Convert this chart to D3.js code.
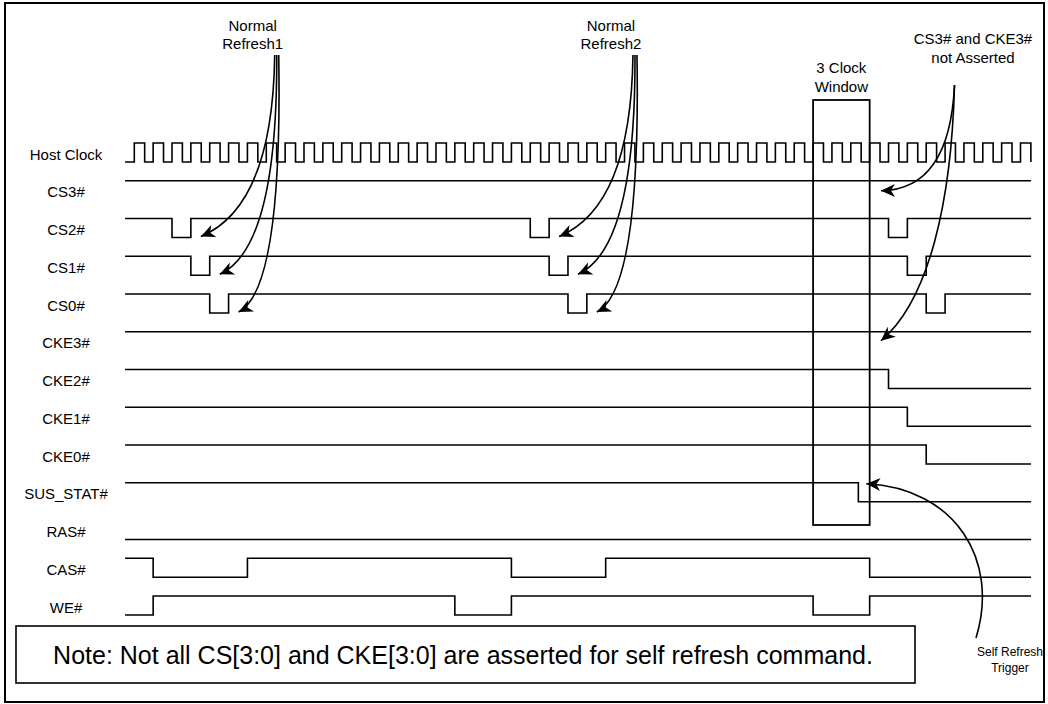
<!DOCTYPE html>
<html>
<head>
<meta charset="utf-8">
<script src="https://cdn.jsdelivr.net/npm/d3@7"></script>
<style>
  body { margin: 0; background: #fff; }
  text { font-family: "Liberation Sans", Arial, sans-serif; fill: #000; }
</style>
</head>
<body>
<svg id="chart" width="1048" height="704"></svg>
<script>
// signal rows, top to bottom
const signalNames = ["Host Clock", "CS3#", "CS2#", "CS1#", "CS0#", "CKE3#", "CKE2#",
  "CKE1#", "CKE0#", "SUS_STAT#", "RAS#", "CAS#", "WE#"];
// level at the start (1 = high, 0 = low), the clock row is drawn separately
const startLevels = [null, 1, 1, 1, 1, 1, 1, 1, 1, 1, 0, 1, 0];
// clock counts where each signal toggles
const toggleTimes = [
  null,
  [],
  [2, 3, 21, 22, 40, 41],
  [3, 4, 22, 23, 41, 42],
  [4, 5, 23, 24, 42, 43],
  [],
  [40],
  [41],
  [42],
  [38.4],
  [],
  [1, 6, 20, 25, 39],
  [1, 17, 20, 36, 39]
];
const clockEdges = d3.range(0, 48); // rising edges of the host clock
const clockHigh = 0.55;             // high part of one period
const timeSpan = [-0.49, 47.56];
const windowClocks = [36, 39];

// refresh commands: where CS2# goes low for each one
const refreshStarts = [2, 21];
const refreshLabels = [["Normal", "Refresh1"], ["Normal", "Refresh2"]];

const svg = d3.select("#chart");

const x = d3.scaleLinear().domain([0, 47]).range([134.3, 1020.5]);
const row = d3.scaleLinear().domain([0, signalNames.length - 1]).range([143, 596]);
const swing = 19;
const yLevel = (i, lvl) => row(i) + (lvl ? 0 : swing);

// outer frame
svg.append("rect")
  .attr("x", 5).attr("y", 3).attr("width", 1039).attr("height", 699)
  .attr("fill", "none").attr("stroke", "#000").attr("stroke-width", 2);

// arrow head
svg.append("defs").append("marker")
  .attr("id", "head")
  .attr("viewBox", "-15 -7 16 14")
  .attr("markerUnits", "userSpaceOnUse")
  .attr("markerWidth", 16).attr("markerHeight", 14)
  .attr("refX", 0).attr("refY", 0)
  .attr("orient", "auto")
  .append("path")
  .attr("d", "M0,0 L-14,-6.5 L-10,0 L-14,6.5 Z")
  .attr("fill", "#000");

const stepLine = d3.line().curve(d3.curveStepAfter);

// clock
const clockPts = [[timeSpan[0], 0]];
clockEdges.forEach(t => {
  clockPts.push([t, 1]);
  clockPts.push([t + clockHigh, 0]);
});
clockPts.push([clockEdges[clockEdges.length - 1] + clockHigh, 0]);

svg.append("path")
  .attr("d", stepLine(clockPts.map(([t, l]) => [x(t), yLevel(0, l)])))
  .attr("fill", "none").attr("stroke", "#000").attr("stroke-width", 1.6);

// other signals
const waves = signalNames.slice(1).map((name, k) => {
  const i = k + 1;
  let lvl = startLevels[i];
  const pts = [[timeSpan[0], lvl]];
  toggleTimes[i].forEach(t => { lvl = 1 - lvl; pts.push([t, lvl]); });
  pts.push([timeSpan[1], lvl]);
  return { i, pts };
});

svg.selectAll("path.wave").data(waves).join("path")
  .attr("class", "wave")
  .attr("d", d => stepLine(d.pts.map(([t, l]) => [x(t), yLevel(d.i, l)])))
  .attr("fill", "none").attr("stroke", "#000").attr("stroke-width", 1.6);

// row labels
svg.selectAll("text.lab").data(signalNames).join("text")
  .attr("class", "lab")
  .attr("x", 66)
  .attr("y", (d, i) => row(i) + 11)
  .attr("text-anchor", "middle")
  .attr("dominant-baseline", "central")
  .attr("font-size", 15)
  .text(d => d);

// 3 clock window
svg.append("rect")
  .attr("x", x(windowClocks[0])).attr("y", 100)
  .attr("width", x(windowClocks[1]) - x(windowClocks[0])).attr("height", 425)
  .attr("fill", "none").attr("stroke", "#000").attr("stroke-width", 1.8);

const twoLines = (cx, cy, lines, size, gap) => {
  svg.append("g").selectAll("text").data(lines).join("text")
    .attr("x", cx).attr("y", (d, i) => cy + i * gap)
    .attr("text-anchor", "middle").attr("dominant-baseline", "central")
    .attr("font-size", size)
    .text(d => d);
};

twoLines((x(windowClocks[0]) + x(windowClocks[1])) / 2, 67, ["3 Clock", "Window"], 15, 19);
twoLines(973, 38, ["CS3# and CKE3#", "not Asserted"], 15, 19);

const arrow = d => svg.append("path")
  .attr("d", d)
  .attr("fill", "none").attr("stroke", "#000").attr("stroke-width", 1.6)
  .attr("marker-end", "url(#head)");

// normal refresh arrows, one to each CS pulse
refreshStarts.forEach((t0, r) => {
  const sx = x(t0 + 5.5);
  twoLines(sx - 23, 25, refreshLabels[r], 15, 18);
  [2, 3, 4].forEach((rowIdx, j) => {
    const ex = x(t0 + j + 1) + 10;
    const ey = yLevel(rowIdx, 0) - 1;
    const p = d3.path();
    p.moveTo(sx - 1 + j * 2, 55);
    p.quadraticCurveTo(sx - 3 + j * 5, ey - 30 + j * 4, ex, ey);
    arrow(p.toString());
  });
});

// CS3# / CKE3# not asserted
{
  const sx = x(43.5), sy = 85;
  const p1 = d3.path();
  p1.moveTo(sx, sy);
  p1.bezierCurveTo(sx - 3, 150, sx - 25, 190, x(39.6), row(1) + 10);
  arrow(p1.toString());
  const p2 = d3.path();
  p2.moveTo(sx, sy);
  p2.bezierCurveTo(sx - 3, 200, sx - 25, 300, x(39.6), row(5) + 9);
  arrow(p2.toString());
}

// self refresh trigger
{
  const p = d3.path();
  p.moveTo(976, 638);
  p.bezierCurveTo(1000, 560, 955, 488, x(38.4) + 8, row(9) + 1);
  arrow(p.toString());
  twoLines(1010, 652, ["Self Refresh", "Trigger"], 12, 16);
}

// note box
svg.append("rect")
  .attr("x", 16).attr("y", 626).attr("width", 899).attr("height", 57)
  .attr("fill", "#fff").attr("stroke", "#000").attr("stroke-width", 1.6);
svg.append("text")
  .attr("x", 463).attr("y", 655)
  .attr("text-anchor", "middle").attr("dominant-baseline", "central")
  .attr("font-size", 25)
  .text("Note: Not all CS[3:0] and CKE[3:0] are asserted for self refresh command.");
</script>
</body>
</html>
